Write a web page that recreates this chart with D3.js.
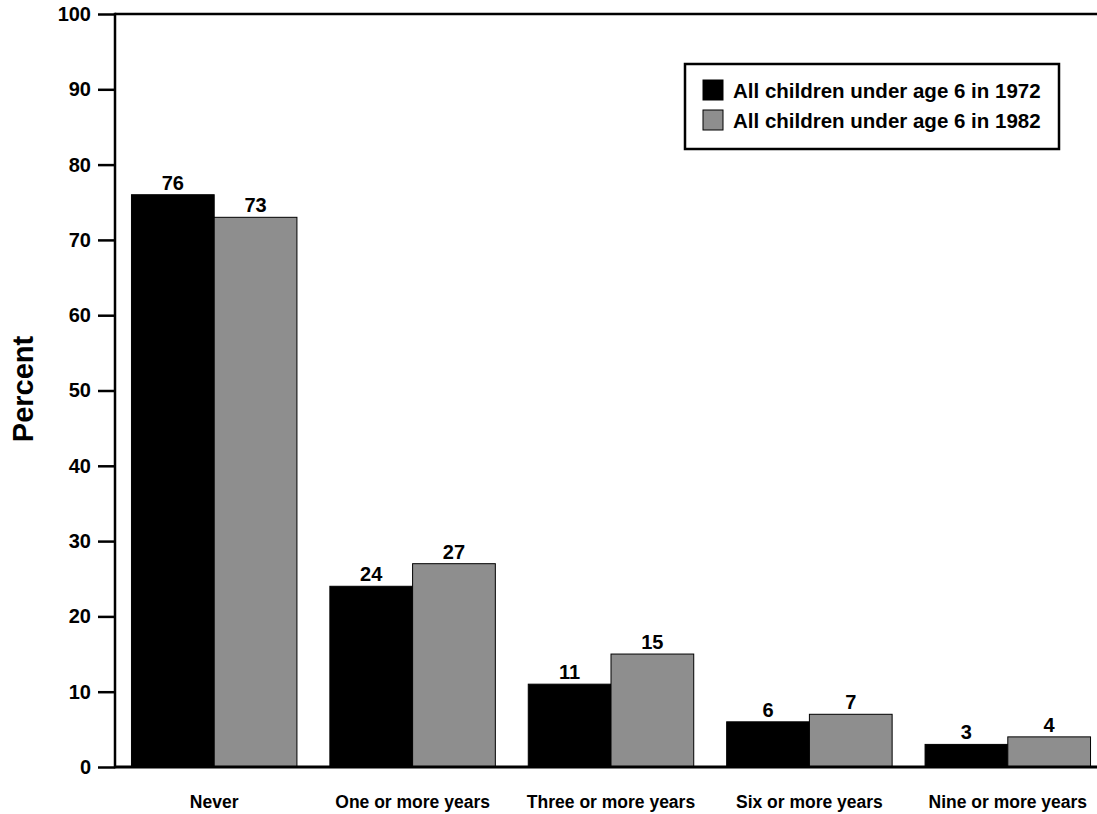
<!DOCTYPE html>
<html>
<head>
<meta charset="utf-8">
<script src="https://cdn.jsdelivr.net/npm/d3@7"></script>
<style>
  html, body { margin: 0; padding: 0; background: #fff; }
  svg { display: block; font-family: "Liberation Sans", Arial, Helvetica, sans-serif; }
</style>
</head>
<body>
<svg id="chart" width="1097" height="814"></svg>
<script>
// Share of children by years spent in poverty
const categories = ["Never", "One or more years", "Three or more years", "Six or more years", "Nine or more years"];
const seriesNames = ["All children under age 6 in 1972", "All children under age 6 in 1982"];
const values1972 = [76, 24, 11, 6, 3];
const values1982 = [73, 27, 15, 7, 4];
const yTicks = [0, 10, 20, 30, 40, 50, 60, 70, 80, 90, 100];
const colors = ["#000000", "#8e8e8e"];

(function draw() {
  const svg = d3.select("#chart");
  const mLeft = 115, mRight = 1107, mTop = 14, mBottom = 767;

  const x = d3.scaleBand().domain(categories).range([mLeft, mRight])
    .paddingInner(0.166).paddingOuter(0.083);
  const xs = d3.scaleBand().domain([0, 1]).range([0, x.bandwidth()]);
  const y = d3.scaleLinear().domain([0, 100]).range([mBottom, mTop]);

  const data = categories.map((c, i) => ({ cat: c, vals: [values1972[i], values1982[i]] }));

  // Bars
  const groups = svg.append("g").selectAll("g").data(data).join("g")
    .attr("transform", d => `translate(${x(d.cat)},0)`);
  groups.selectAll("rect").data(d => d.vals.map((v, k) => ({ v, k }))).join("rect")
    .attr("x", d => xs(d.k))
    .attr("y", d => y(d.v))
    .attr("width", xs.bandwidth())
    .attr("height", d => y(0) - y(d.v))
    .attr("fill", d => colors[d.k])
    .attr("stroke", "#000")
    .attr("stroke-width", 1);

  // Value labels
  groups.selectAll("text").data(d => d.vals.map((v, k) => ({ v, k }))).join("text")
    .attr("x", d => xs(d.k) + xs.bandwidth() / 2)
    .attr("y", d => y(d.v) - 5)
    .attr("text-anchor", "middle")
    .attr("font-size", 20)
    .attr("font-weight", "bold")
    .text(d => d.v);

  // Y axis
  const yAxis = svg.append("g").attr("transform", `translate(${mLeft},0)`)
    .call(d3.axisLeft(y).tickValues(yTicks).tickSize(17).tickPadding(7));
  yAxis.select(".domain").remove();
  yAxis.selectAll(".tick line").attr("stroke", "#000").attr("stroke-width", 2.5);
  yAxis.selectAll(".tick text").attr("font-size", 20).attr("font-weight", "bold")
    .attr("font-family", "Liberation Sans, Arial, sans-serif").attr("fill", "#000");

  // Frame lines: left axis, top line, baseline
  svg.append("line").attr("x1", mLeft).attr("x2", mLeft).attr("y1", y(100) - 1.25).attr("y2", y(0) + 1.25)
    .attr("stroke", "#000").attr("stroke-width", 2.5);
  svg.append("line").attr("x1", mLeft).attr("x2", 1097).attr("y1", y(100)).attr("y2", y(100))
    .attr("stroke", "#000").attr("stroke-width", 2.5);
  svg.append("line").attr("x1", mLeft).attr("x2", 1097).attr("y1", y(0)).attr("y2", y(0))
    .attr("stroke", "#000").attr("stroke-width", 3);

  // X category labels
  svg.append("g").selectAll("text").data(categories).join("text")
    .attr("x", d => x(d) + x.bandwidth() / 2)
    .attr("y", 808)
    .attr("text-anchor", "middle")
    .attr("font-size", 17.5)
    .attr("font-weight", "bold")
    .text(d => d);

  // Y title
  svg.append("text")
    .attr("transform", "translate(33,389) rotate(-90)")
    .attr("text-anchor", "middle")
    .attr("font-size", 29)
    .attr("font-weight", "bold")
    .text("Percent");

  // Legend
  const lg = svg.append("g");
  lg.append("rect").attr("x", 685).attr("y", 64).attr("width", 374).attr("height", 85)
    .attr("fill", "#fff").attr("stroke", "#000").attr("stroke-width", 2.5);
  seriesNames.forEach((name, k) => {
    const yy = 80 + k * 30;
    lg.append("rect").attr("x", 703).attr("y", yy).attr("width", 20).attr("height", 20)
      .attr("fill", colors[k]).attr("stroke", "#000").attr("stroke-width", 1);
    lg.append("text").attr("x", 733).attr("y", yy + 17.5)
      .attr("font-size", 20.5).attr("font-weight", "bold").text(name);
  });
})();
</script>
</body>
</html>
